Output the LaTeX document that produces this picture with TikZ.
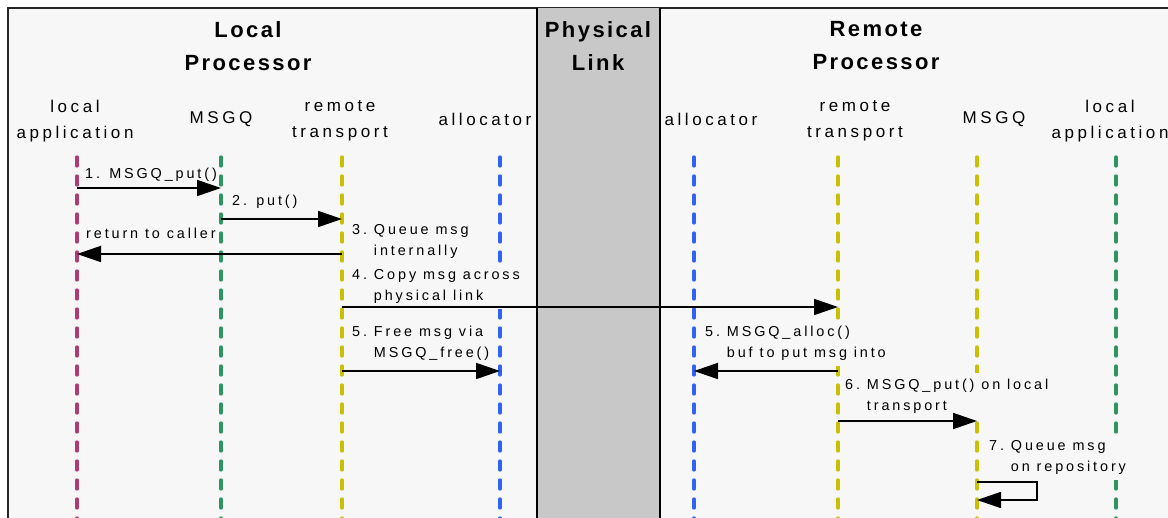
\documentclass[tikz,border=0pt]{standalone}
\usepackage{fontspec}
\setmainfont{Liberation Sans}
\newfontfamily\ttlfont[LetterSpace=11]{Liberation Sans}
\newfontfamily\hdrfont[LetterSpace=21]{Liberation Sans}
\newfontfamily\msgfont[LetterSpace=20]{Liberation Sans}
\usetikzlibrary{arrows.meta}
\definecolor{bgpanel}{HTML}{F7F7F7}
\definecolor{linkgray}{HTML}{C8C8C8}
\definecolor{lifemag}{HTML}{B03A72}
\definecolor{lifegrn}{HTML}{2E9460}
\definecolor{lifeyel}{HTML}{C8C000}
\definecolor{lifeblu}{HTML}{2F62F5}
\newcommand{\msgstep}[2]{#1.\ \begin{tabular}[t]{@{}l@{}}#2\end{tabular}}
\begin{document}
\begin{tikzpicture}[x=1pt, y=-1pt,
    title/.style={font=\ttlfont\bfseries\fontsize{22}{33}\selectfont, align=center, inner sep=0pt},
    head/.style={font=\hdrfont\fontsize{17}{26}\selectfont, align=center, inner sep=0pt},
    lbl/.style={font=\msgfont\fontsize{14.4}{21}\selectfont, anchor=base west,
                fill=bgpanel, inner sep=2pt},
    life/.style={line width=3.3pt, line cap=round, dash pattern=on 9pt off 10pt},
    msg/.style={line width=1.8pt, -{Triangle[length=24pt, width=16pt]}}]
  \useasboundingbox (0,0) rectangle (1168,518);
  \clip (0,0) rectangle (1168,518);
  \fill[bgpanel] (8,8) rectangle (1180,530);
  \draw[line width=1.5pt, black!85] (8,530) -- (8,8) -- (1180,8);
  \fill[linkgray] (537,8) rectangle (660,530);
  \draw[line width=1.5pt] (537,8) -- (537,530) (660,8) -- (660,530);

  \node[title] (ttlloc) at (248,46) {Local\\Processor};
  \node[title] (ttllink) at (598,46) {Physical\\Link};
  \node[title] (ttlrem) at (876,46) {Remote\\Processor};

  \node[head] (hla) at (75,121) {local\\application};
  \node[head] (hlq) at (221,119) {MSGQ};
  \node[head] (hlt) at (340,121) {remote\\transport};
  \node[head] (hlal) at (485,119) {allocator};
  \node[head] (hral) at (711,119) {allocator};
  \node[head] (hrt) at (855,121) {remote\\transport};
  \node[head] (hrq) at (994,119) {MSGQ};
  \node[head] (hra) at (1110,121) {local\\application};

  \coordinate (la) at (77,157);
  \coordinate (lq) at (221,157);
  \coordinate (lt) at (342,157);
  \coordinate (lal) at (500,157);
  \coordinate (ral) at (694,157);
  \coordinate (rt) at (838,157);
  \coordinate (rq) at (977,157);
  \coordinate (ra) at (1116,157);
  \coordinate (bot) at (0,530);
  \foreach \n/\c in {la/lifemag, lq/lifegrn, lt/lifeyel, lal/lifeblu,
                     ral/lifeblu, rt/lifeyel, rq/lifeyel, ra/lifegrn}
    \draw[life, \c] (\n) -- (\n |- bot);

  \node[lbl] (t1) at (83,179) {1. MSGQ\_put()};
  \node[lbl] (t2) at (230,206) {2. put()};
  \node[lbl] (tret) at (84,239) {return to caller};
  \node[lbl] (t3) at (350,235) {\msgstep{3}{Queue msg\\internally}};
  \node[lbl] (t4) at (350,280) {\msgstep{4}{Copy msg across\\physical link}};
  \node[lbl] (t5) at (350,337) {\msgstep{5}{Free msg via\\MSGQ\_free()}};
  \node[lbl] (u5) at (703,337) {\msgstep{5}{MSGQ\_alloc()\\buf to put msg into}};
  \node[lbl] (u6) at (843,390) {\msgstep{6}{MSGQ\_put() on local\\transport}};
  \node[lbl] (u7) at (987,451) {\msgstep{7}{Queue msg\\on repository}};

  \coordinate (m1) at (0,188);
  \coordinate (m2) at (0,219);
  \coordinate (m3) at (0,254);
  \coordinate (m4) at (0,307);
  \coordinate (m5) at (0,371);
  \coordinate (m6) at (0,421);
  \coordinate (m7) at (0,482);
  \coordinate (m7b) at (0,500);
  \coordinate (qloop) at (1037,0);

  \draw[msg] (la |- m1) -- (lq |- m1);
  \draw[msg] (lq |- m2) -- (lt |- m2);
  \draw[msg] (lt |- m3) -- (la |- m3);
  \draw[msg] (lt |- m4) -- (rt |- m4);
  \draw[msg] (lt |- m5) -- (lal |- m5);
  \draw[msg] (rt |- m5) -- (ral |- m5);
  \draw[msg] (rt |- m6) -- (rq |- m6);
  \draw[msg] (rq |- m7) -- (qloop |- m7) -- (qloop |- m7b) -- (rq |- m7b);
\end{tikzpicture}
\end{document}
